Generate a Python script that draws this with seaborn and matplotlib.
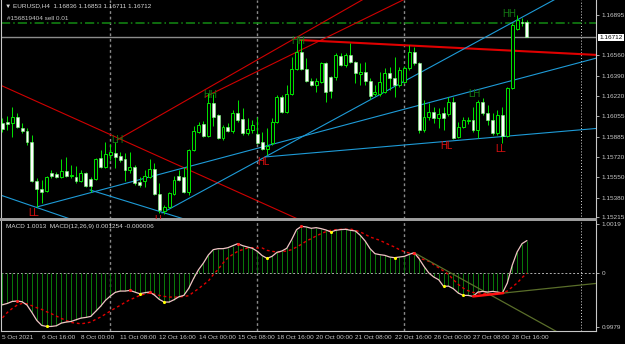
import numpy as np
import pandas as pd
import matplotlib
matplotlib.use("Agg")
import matplotlib.pyplot as plt
import matplotlib.transforms as mtransforms
import seaborn as sns

# ---------------- data ----------------
time_labels = ["5 Oct 2021", "6 Oct 16:00", "8 Oct 00:00", "11 Oct 08:00", "12 Oct 16:00",
               "14 Oct 00:00", "15 Oct 08:00", "18 Oct 16:00", "20 Oct 00:00", "21 Oct 08:00",
               "22 Oct 16:00", "26 Oct 00:00", "27 Oct 08:00", "28 Oct 16:00"]
label_bars = [0, 8, 16, 24, 32, 40, 48, 56, 64, 72, 80, 88, 96, 104]

price_ticks = [1.16895, 1.16560, 1.16390, 1.16220, 1.16055, 1.15885, 1.15720, 1.15550, 1.15380, 1.15215]
price_tick_labels = ["1.16895", "1.16560", "1.16390", "1.16220", "1.16055", "1.15885",
                     "1.15720", "1.15550", "1.15380", "1.15215"]
bid_price = 1.16712
order_price = 1.16832

open_ = [1.15999, 1.16007, 1.15999, 1.16049, 1.15958, 1.15933, 1.15841, 1.15518, 1.15451, 1.15435,
         1.15584, 1.15576, 1.15551, 1.15601, 1.15559, 1.15551, 1.15518, 1.15584, 1.15534, 1.15534,
         1.15709, 1.15634, 1.15734, 1.15750, 1.15725, 1.15700, 1.15609, 1.15634, 1.15509, 1.15518,
         1.15551, 1.15617, 1.15410, 1.15269, 1.15302, 1.15410, 1.15559, 1.15551, 1.15426, 1.15775,
         1.15924, 1.15991, 1.15891, 1.16165, 1.16066, 1.15875, 1.15966, 1.15933, 1.16082, 1.16032,
         1.15916, 1.15941, 1.15908, 1.15841, 1.15783, 1.15833, 1.16007, 1.16215, 1.16091, 1.16240,
         1.16447, 1.16588, 1.16447, 1.16348, 1.16315, 1.16339, 1.16497, 1.16381, 1.16381, 1.16555,
         1.16481, 1.16563, 1.16505, 1.16406, 1.16422, 1.16348, 1.16240, 1.16240, 1.16256, 1.16414,
         1.16373, 1.16315, 1.16339, 1.16456, 1.16588, 1.16497, 1.15941, 1.16049, 1.16091, 1.16041,
         1.16082, 1.16074, 1.16173, 1.15883, 1.15966, 1.16016, 1.16024, 1.15941, 1.16173, 1.16082,
         1.16024, 1.15916, 1.16066, 1.15891, 1.16290, 1.16779, 1.16837, 1.16836]
high_ = [1.16041, 1.16057, 1.16132, 1.16082, 1.15999, 1.15958, 1.15900, 1.15543, 1.15526, 1.15559,
         1.15609, 1.15592, 1.15700, 1.15717, 1.15651, 1.15642, 1.15609, 1.15592, 1.15551, 1.15709,
         1.15775, 1.15841, 1.15825, 1.15841, 1.15758, 1.15750, 1.15758, 1.15651, 1.15551, 1.15609,
         1.15700, 1.15667, 1.15501, 1.15318, 1.15426, 1.15559, 1.15609, 1.15634, 1.15783, 1.15974,
         1.16007, 1.16016, 1.16248, 1.16240, 1.16074, 1.15983, 1.15999, 1.16107, 1.16190, 1.16124,
         1.16041, 1.16024, 1.16049, 1.15924, 1.15958, 1.16041, 1.16232, 1.16232, 1.16315, 1.16547,
         1.16688, 1.16696, 1.16539, 1.16373, 1.16373, 1.16505, 1.16505, 1.16389, 1.16580, 1.16580,
         1.16580, 1.16663, 1.16514, 1.16497, 1.16505, 1.16373, 1.16315, 1.16422, 1.16456, 1.16464,
         1.16547, 1.16464, 1.16472, 1.16647, 1.16630, 1.16505, 1.16190, 1.16165, 1.16132, 1.16124,
         1.16132, 1.16215, 1.16215, 1.16007, 1.16049, 1.16049, 1.16132, 1.16190, 1.16207, 1.16149,
         1.16082, 1.16107, 1.16132, 1.16298, 1.16829, 1.16896, 1.16871, 1.16853]
low_ = [1.15924, 1.15941, 1.15883, 1.15958, 1.15916, 1.15817, 1.15509, 1.15302, 1.15335, 1.15426,
        1.15543, 1.15543, 1.15543, 1.15551, 1.15543, 1.15501, 1.15509, 1.15468, 1.15426, 1.15526,
        1.15626, 1.15626, 1.15692, 1.15626, 1.15675, 1.15518, 1.15584, 1.15485, 1.15468, 1.15468,
        1.15543, 1.15402, 1.15252, 1.15244, 1.15294, 1.15402, 1.15518, 1.15418, 1.15402, 1.15767,
        1.15916, 1.15883, 1.15883, 1.15974, 1.15866, 1.15858, 1.15924, 1.15916, 1.16007, 1.15900,
        1.15900, 1.15916, 1.15825, 1.15775, 1.15734, 1.15817, 1.15999, 1.16082, 1.16082, 1.16232,
        1.16439, 1.16439, 1.16339, 1.16306, 1.16256, 1.16331, 1.16173, 1.16207, 1.16356, 1.16472,
        1.16464, 1.16497, 1.16331, 1.16315, 1.16315, 1.16198, 1.16223, 1.16223, 1.16248, 1.16273,
        1.16215, 1.16298, 1.16331, 1.16439, 1.16481, 1.15916, 1.15924, 1.16024, 1.15999, 1.15958,
        1.15941, 1.16057, 1.15866, 1.15875, 1.15958, 1.15991, 1.15924, 1.15875, 1.16066, 1.15983,
        1.15900, 1.15900, 1.15833, 1.15883, 1.16281, 1.16771, 1.16804, 1.16711]
close_ = [1.15949, 1.15991, 1.16049, 1.15966, 1.15933, 1.15841, 1.15518, 1.15451, 1.15426, 1.15551,
          1.15559, 1.15551, 1.15601, 1.15559, 1.15568, 1.15518, 1.15584, 1.15476, 1.15476, 1.15700,
          1.15634, 1.15742, 1.15758, 1.15717, 1.15692, 1.15609, 1.15634, 1.15501, 1.15485, 1.15559,
          1.15617, 1.15410, 1.15277, 1.15302, 1.15418, 1.15526, 1.15526, 1.15426, 1.15775, 1.15933,
          1.15983, 1.15891, 1.16165, 1.16049, 1.15875, 1.15966, 1.15933, 1.16082, 1.16024, 1.15916,
          1.15949, 1.15983, 1.15833, 1.15783, 1.15808, 1.16007, 1.16215, 1.16091, 1.16240, 1.16447,
          1.16588, 1.16447, 1.16348, 1.16315, 1.16348, 1.16497, 1.16256, 1.16265, 1.16563, 1.16481,
          1.16563, 1.16505, 1.16414, 1.16422, 1.16348, 1.16223, 1.16256, 1.16339, 1.16414, 1.16373,
          1.16315, 1.16439, 1.16456, 1.16588, 1.16497, 1.15941, 1.16049, 1.16091, 1.16041, 1.16074,
          1.16041, 1.16173, 1.15875, 1.15966, 1.16024, 1.16024, 1.15941, 1.16173, 1.16082, 1.16024,
          1.15916, 1.16066, 1.15891, 1.16290, 1.16813, 1.16854, 1.16829, 1.16712]

# MACD values in units of 1e-4
macd_e4 = [-12.26, -11.74, -10.97, -10.84, -11.09, -12.38, -15.22, -18.32, -20.25, -20.64,
           -20.64, -20.38, -19.35, -18.96, -18.71, -18.06, -17.42, -17.16, -16.77, -14.84,
           -12.90, -10.58, -8.90, -7.48, -6.97, -6.97, -6.71, -7.35, -8.00, -7.61,
           -7.35, -8.51, -10.19, -11.22, -11.22, -10.32, -9.16, -8.64, -5.93, -2.06,
           1.29, 3.87, 6.97, 9.03, 9.42, 9.42, 9.80, 10.58, 11.35, 10.58,
           10.06, 9.55, 8.39, 6.71, 5.68, 6.45, 8.00, 8.51, 9.55, 12.90,
           16.77, 18.06, 17.80, 17.29, 17.54, 17.16, 16.64, 15.87, 16.51, 16.77,
           16.90, 16.51, 16.25, 14.58, 12.38, 9.42, 7.48, 7.10, 6.84, 6.19,
           5.93, 6.19, 6.45, 7.22, 7.87, 5.55, 2.58, 0.00, -1.55, -2.58,
           -5.16, -5.05, -6.06, -7.74, -8.64, -8.64, -9.03, -7.35, -7.10, -7.35,
           -7.10, -7.35, -7.74, -3.87, 2.97, 8.13, 11.35, 12.54]
signal_e4 = [-17.29, -15.22, -13.67, -12.38, -11.74, -11.87, -12.64, -13.42, -14.06, -14.96,
             -15.74, -16.64, -17.54, -18.32, -19.09, -19.35, -19.61, -19.35, -18.96, -17.93,
             -17.03, -15.87, -14.71, -13.55, -12.51, -11.35, -10.32, -9.55, -8.64, -8.13,
             -7.74, -8.13, -8.64, -9.03, -9.29, -9.29, -9.29, -9.03, -8.77, -7.35,
             -6.06, -4.52, -3.10, -0.65, 1.42, 3.87, 5.93, 7.22, 8.39, 9.03,
             9.68, 9.80, 9.68, 9.68, 8.77, 8.39, 8.13, 8.26, 8.51, 9.03,
             10.06, 11.09, 12.38, 13.29, 14.32, 15.22, 16.00, 16.51, 16.77, 16.90,
             16.90, 17.03, 16.51, 15.87, 14.96, 13.93, 13.29, 12.64, 11.74, 10.84,
             10.06, 9.03, 8.26, 7.74, 7.22, 5.81, 5.16, 4.52, 3.23, 2.06,
             0.77, -0.52, -2.58, -4.39, -5.81, -6.84, -7.48, -7.74, -7.87, -8.00,
             -8.00, -7.87, -7.61, -6.97, -5.42, -3.87, -1.81, -0.06]
macd_peaks = [3, 26, 30, 48, 61, 84]
macd_troughs = [9, 28, 33, 54, 67, 80, 90, 94]
macd_ticks = [19, 0, -21]
macd_tick_labels = ["1.0019", "0", "0.9979"]

pivot_labels = ["LL", "LH", "LL", "HH", "HL", "HH", "HL", "LH", "LL", "HH"]
pivot_bars = [6.4, 23.4, 32.1, 42.4, 53.2, 60.3, 90.5, 96.2, 101.7, 103.5]
pivot_prices = [1.15252, 1.15854, 1.15194, 1.16232, 1.15671, 1.16680, 1.15808, 1.16240, 1.15783, 1.16900]

# trend lines drawn on the chart: (bar0, price0, bar1, price1)
red_lines = [(-0.51, 1.16315, 62.0, 1.15170),
             (23.37, 1.15858, 81.1, 1.17200),
             (41.33, 1.16215, 91.3, 1.17211)]
red_level = (60.7, 1.16688, 121.3, 1.16564)
blue_lines = [(-0.51, 1.15402, 19.9, 1.15117),
              (17.86, 1.15443, 40.3, 1.15161),
              (7.04, 1.15302, 121.3, 1.16539),
              (32.55, 1.15252, 113.8, 1.17049),
              (53.57, 1.15717, 121.3, 1.15954)]
macd_olive_lines = [(84, 7.87, 114, -23.6), (102.2, -7.74, 121.3, -3.98)]
macd_red_line = (96, -9.03, 102.2, -7.74)
week_separators = [22, 52, 82]
shift_marker = 118.0

# ---------------- style ----------------
sns.set_style("dark", {"axes.facecolor": "black", "figure.facecolor": "black",
                       "axes.edgecolor": "#c8c8c8", "text.color": "#d0d0d0",
                       "xtick.color": "#c8c8c8", "ytick.color": "#c8c8c8",
                       "axes.grid": False})
plt.rcParams['font.family'] = ['Liberation Sans', 'DejaVu Sans']

FS = 4.6
WICK = "#00e600"
fig = plt.figure(figsize=(6.25, 3.44), dpi=100, facecolor="black")
ax = fig.add_axes([0.0024, 0.3634, 0.9512, 0.6366])
axm = fig.add_axes([0.0024, 0.0378, 0.9512, 0.3227])
for a in (ax, axm):
    a.set_facecolor("black")
    a.set_xlim(-0.2, 121.1)
    for s in a.spines.values():
        s.set_color("#c8c8c8")
        s.set_linewidth(0.8)
ax.spines["top"].set_visible(False)
ax.spines["bottom"].set_color("#a0a0a0")
ax.spines["bottom"].set_linewidth(1.4)
axm.spines["top"].set_color("#a0a0a0")
axm.spines["top"].set_linewidth(1.4)

df = pd.DataFrame({"bar": np.arange(len(close_)), "open": open_, "high": high_,
                   "low": low_, "close": close_, "macd": macd_e4, "signal": signal_e4})

# ---- main price pane ----
ax.set_ylim(1.15202, 1.17020)
for b in week_separators:
    ax.axvline(b, color="#8a8a8a", lw=1.0, ls=(0, (2, 2)), zorder=1)
    axm.axvline(b, color="#8a8a8a", lw=1.0, ls=(0, (2, 2)), zorder=1)
ax.axvline(shift_marker, color="#e0e0e0", lw=0.7, ls=(0, (1, 2)), zorder=1)
axm.axvline(shift_marker, color="#e0e0e0", lw=0.7, ls=(0, (1, 2)), zorder=1)

ax.axhline(order_price, color="#138a13", lw=1.1, ls=(0, (6, 2, 1, 2)), zorder=2)
ax.axhline(bid_price, color="#8c8c8c", lw=1.0, zorder=2)

for (b0, p0, b1, p1) in red_lines:
    ax.plot([b0, b1], [p0, p1], color="#d00000", lw=0.8, zorder=2)
ax.plot([red_level[0], red_level[2]], [red_level[1], red_level[3]], color="#e00000", lw=1.5, zorder=2)
for (b0, p0, b1, p1) in blue_lines:
    ax.plot([b0, b1], [p0, p1], color="#1e9bd7", lw=0.8, zorder=2)

up = df["close"] >= df["open"]
ax.vlines(df["bar"], df["low"], df["high"], color=WICK, lw=0.7, zorder=3)
ax.bar(df["bar"][up], (df["close"] - df["open"])[up], bottom=df["open"][up], width=0.6,
       color="black", edgecolor=WICK, lw=0.7, zorder=4)
ax.bar(df["bar"][~up], (df["open"] - df["close"])[~up], bottom=df["close"][~up], width=0.6,
       color="white", edgecolor="#7cff7c", lw=0.4, zorder=4)

for lab, b, p in zip(pivot_labels, pivot_bars, pivot_prices):
    col = "#e01010" if lab in ("LL", "HL") else "#137a13"
    ax.text(b, p, lab, color=col, fontsize=7, ha="center", va="center", zorder=5, clip_on=True)

ax.yaxis.tick_right()
ax.set_yticks(price_ticks)
ax.set_yticklabels(price_tick_labels, fontsize=FS, color="#c8c8c8")
ax.tick_params(axis="y", direction="out", length=2.5, width=0.6, pad=1.5, colors="#c8c8c8")
ax.set_xticks([])
ax.set_xlabel("")
ax.set_ylabel("")
trans = mtransforms.blended_transform_factory(ax.transAxes, ax.transData)
ax.text(1.006, bid_price, "1.16712", transform=trans, fontsize=FS, color="black",
        ha="left", va="center", clip_on=False,
        bbox=dict(facecolor="white", edgecolor="none", pad=0.8))

fig.text(5 / 625, 1 - 6 / 344, "\u25bc EURUSD,H4  1.16836 1.16853 1.16711 1.16712",
         fontsize=FS, color="#d8d8d8", ha="left", va="center")
fig.text(7 / 625, 1 - 19 / 344, "#156819404 sell 0.01", fontsize=FS, color="#c8c8c8",
         ha="left", va="center")

# ---- MACD pane ----
axm.set_ylim(-22.4, 20.5)
axm.axhline(0, color="#b0b0b0", lw=0.7, ls=(0, (2, 2)), zorder=1)
axm.vlines(df["bar"], 0, df["macd"], color="#0a7a0a", lw=0.7, zorder=2)
sns.lineplot(data=df, x="bar", y="signal", ax=axm, color="#e00000", lw=1.0,
             linestyle=(0, (2, 2)), zorder=3)
sns.lineplot(data=df, x="bar", y="macd", ax=axm, color="#f0c4c4", lw=0.9, zorder=4)
for (b0, v0, b1, v1) in macd_olive_lines:
    axm.plot([b0, b1], [v0, v1], color="#5a6e2a", lw=0.9, zorder=3)
axm.plot([macd_red_line[0], macd_red_line[2]], [macd_red_line[1], macd_red_line[3]],
         color="#ff1010", lw=1.8, zorder=4)
pk = df.loc[macd_peaks]
tr = df.loc[macd_troughs]
sns.scatterplot(x=pk["bar"], y=pk["macd"], ax=axm, color="#ff2020", s=5, linewidth=0, zorder=5)
sns.scatterplot(x=tr["bar"], y=tr["macd"], ax=axm, color="#ffff00", s=5, linewidth=0, zorder=5)

axm.yaxis.tick_right()
axm.set_yticks(macd_ticks)
axm.set_yticklabels(macd_tick_labels, fontsize=FS, color="#c8c8c8")
axm.tick_params(axis="y", direction="out", length=2.5, width=0.6, pad=1.5, colors="#c8c8c8")
axm.set_xticks(label_bars)
axm.set_xticklabels(time_labels, fontsize=FS, color="#c8c8c8", ha="left")
axm.tick_params(axis="x", direction="out", length=2, width=0.6, pad=1.0, colors="#c8c8c8")
axm.set_xlabel("")
axm.set_ylabel("")
axm.text(4 / 625 / 0.9512, 1 - 7 / 111, "MACD 1.0013  MACD(12,26,9) 0.001254 -0.000006",
         transform=axm.transAxes, fontsize=FS, color="#d8d8d8", ha="left", va="center")
axm.set_xlim(-0.2, 121.1)

fig.savefig("out.png", dpi=100, facecolor="black")
